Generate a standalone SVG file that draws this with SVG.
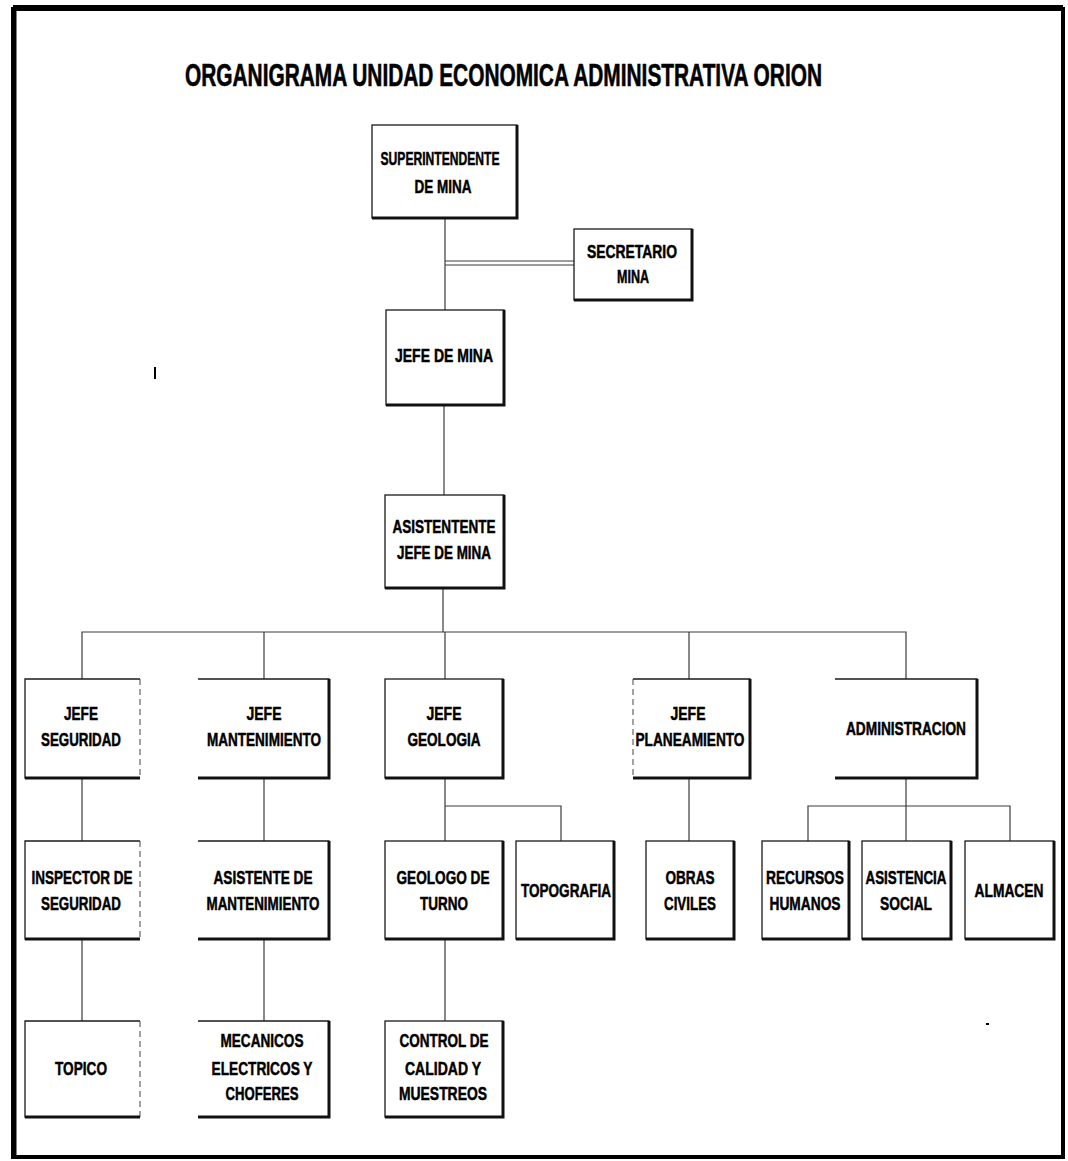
<svg xmlns="http://www.w3.org/2000/svg" width="1068" height="1161" viewBox="0 0 1068 1161">
<style>
.frame{fill:none;stroke:#000;stroke-width:4}
.box{fill:#fff;stroke:#1a1a1a;stroke-width:1.3}
.sh{fill:none;stroke:#111;stroke-width:3}
.faint{fill:none;stroke:#444;stroke-width:1;stroke-dasharray:6 4}
.c{fill:none;stroke:#3a3a3a;stroke-width:1.2}
.t{font-family:"Liberation Sans",Arial,sans-serif;font-weight:bold;font-size:19px;fill:#000;stroke:#000;stroke-width:0.5;text-anchor:middle}
.title{font-family:"Liberation Sans",Arial,sans-serif;font-weight:bold;font-size:32px;fill:#000;stroke:#000;stroke-width:0.6}
</style>
<rect width="1068" height="1161" fill="#fff"/>
<rect class="frame" x="13" y="9" width="1050" height="1148"/>
<line x1="13" y1="8" x2="1063" y2="8" stroke="#000" stroke-width="6"/>
<line x1="14" y1="9" x2="14" y2="1157" stroke="#000" stroke-width="5"/>
<text class="title" x="185" y="86" textLength="637" lengthAdjust="spacingAndGlyphs">ORGANIGRAMA UNIDAD ECONOMICA ADMINISTRATIVA ORION</text>

<g id="connectors">
<path class="c" d="M445,218 V310"/>
<path class="c" d="M445,261 H574 M445,265 H574"/>
<path class="c" d="M444,405 V495"/>
<path class="c" d="M443,588 V632"/>
<path class="c" d="M82,679 V632 H906 V679"/>
<path class="c" d="M264,632 V679"/>
<path class="c" d="M445,632 V679"/>
<path class="c" d="M689,632 V679"/>
<path class="c" d="M82,778 V841 M82,939 V1021"/>
<path class="c" d="M264,778 V841 M264,939 V1021"/>
<path class="c" d="M445,778 V841 M445,939 V1021"/>
<path class="c" d="M445,806 H561 V841"/>
<path class="c" d="M689,778 V841"/>
<path class="c" d="M906,778 V841"/>
<path class="c" d="M808,841 V806 H1010 V841"/>
</g>

<g id="n-super"><rect class="box" x="372" y="125" width="145" height="93"/><path class="sh" d="M517,125 V218 H372"/>
<text class="t" x="440" y="165" textLength="119" lengthAdjust="spacingAndGlyphs">SUPERINTENDENTE</text>
<text class="t" x="443" y="193" textLength="57" lengthAdjust="spacingAndGlyphs">DE MINA</text></g>

<g id="n-secretario"><rect class="box" x="574" y="229" width="118" height="71"/><path class="sh" d="M692,229 V300 H574"/>
<text class="t" x="632" y="258" textLength="90" lengthAdjust="spacingAndGlyphs">SECRETARIO</text>
<text class="t" x="633" y="283" textLength="32" lengthAdjust="spacingAndGlyphs">MINA</text></g>

<g id="n-jefemina"><rect class="box" x="386" y="310" width="118" height="95"/><path class="sh" d="M504,310 V405 H386"/>
<text class="t" x="444" y="362" textLength="98" lengthAdjust="spacingAndGlyphs">JEFE DE MINA</text></g>

<g id="n-asistente"><rect class="box" x="385" y="495" width="119" height="93"/><path class="sh" d="M504,495 V588 H385"/>
<text class="t" x="444" y="533" textLength="103" lengthAdjust="spacingAndGlyphs">ASISTENTENTE</text>
<text class="t" x="444" y="559" textLength="94" lengthAdjust="spacingAndGlyphs">JEFE DE MINA</text></g>

<g id="n-jefeseg"><path class="box" d="M140,778 H25 V679 H140"/><path class="faint" d="M140,679 V778"/><path class="sh" d="M140,778 H25"/>
<text class="t" x="81" y="720" textLength="34" lengthAdjust="spacingAndGlyphs">JEFE</text>
<text class="t" x="81" y="746" textLength="80" lengthAdjust="spacingAndGlyphs">SEGURIDAD</text></g>

<g id="n-jefemant"><path class="box" d="M198,679 H329 V778 H198"/><path class="sh" d="M329,679 V778 H198"/>
<text class="t" x="264" y="720" textLength="35" lengthAdjust="spacingAndGlyphs">JEFE</text>
<text class="t" x="264" y="746" textLength="114" lengthAdjust="spacingAndGlyphs">MANTENIMIENTO</text></g>

<g id="n-jefegeo"><rect class="box" x="385" y="679" width="118" height="99"/><path class="sh" d="M503,679 V778 H385"/>
<text class="t" x="444" y="720" textLength="35" lengthAdjust="spacingAndGlyphs">JEFE</text>
<text class="t" x="444" y="746" textLength="73" lengthAdjust="spacingAndGlyphs">GEOLOGIA</text></g>

<g id="n-jefeplan"><path class="box" d="M633,679 H750 V778 H633"/><path class="faint" d="M633,679 V778"/><path class="sh" d="M750,679 V778 H633"/>
<text class="t" x="688" y="720" textLength="35" lengthAdjust="spacingAndGlyphs">JEFE</text>
<text class="t" x="690" y="746" textLength="109" lengthAdjust="spacingAndGlyphs">PLANEAMIENTO</text></g>

<g id="n-admin"><path class="box" d="M835,679 H977 V778 H835"/><path class="sh" d="M977,679 V778 H835"/>
<text class="t" x="906" y="735" textLength="120" lengthAdjust="spacingAndGlyphs">ADMINISTRACION</text></g>

<g id="n-inspector"><path class="box" d="M140,939 H25 V841 H140"/><path class="faint" d="M140,841 V939"/><path class="sh" d="M140,939 H25"/>
<text class="t" x="82" y="884" textLength="101" lengthAdjust="spacingAndGlyphs">INSPECTOR DE</text>
<text class="t" x="81" y="910" textLength="80" lengthAdjust="spacingAndGlyphs">SEGURIDAD</text></g>

<g id="n-asistmant"><path class="box" d="M198,841 H329 V939 H198"/><path class="sh" d="M329,841 V939 H198"/>
<text class="t" x="263" y="884" textLength="99" lengthAdjust="spacingAndGlyphs">ASISTENTE DE</text>
<text class="t" x="263" y="910" textLength="113" lengthAdjust="spacingAndGlyphs">MANTENIMIENTO</text></g>

<g id="n-geologo"><rect class="box" x="385" y="841" width="118" height="98"/><path class="sh" d="M503,841 V939 H385"/>
<text class="t" x="443" y="884" textLength="93" lengthAdjust="spacingAndGlyphs">GEOLOGO DE</text>
<text class="t" x="444" y="910" textLength="48" lengthAdjust="spacingAndGlyphs">TURNO</text></g>

<g id="n-topografia"><rect class="box" x="516" y="841" width="98" height="98"/><path class="sh" d="M614,841 V939 H516"/>
<text class="t" x="566" y="897" textLength="90" lengthAdjust="spacingAndGlyphs">TOPOGRAFIA</text></g>

<g id="n-obras"><rect class="box" x="646" y="841" width="88" height="98"/><path class="sh" d="M734,841 V939 H646"/>
<text class="t" x="690" y="884" textLength="49" lengthAdjust="spacingAndGlyphs">OBRAS</text>
<text class="t" x="690" y="910" textLength="52" lengthAdjust="spacingAndGlyphs">CIVILES</text></g>

<g id="n-recursos"><rect class="box" x="762" y="841" width="87" height="98"/><path class="sh" d="M849,841 V939 H762"/>
<text class="t" x="805" y="884" textLength="78" lengthAdjust="spacingAndGlyphs">RECURSOS</text>
<text class="t" x="805" y="910" textLength="71" lengthAdjust="spacingAndGlyphs">HUMANOS</text></g>

<g id="n-asistencia"><rect class="box" x="862" y="841" width="89" height="98"/><path class="sh" d="M951,841 V939 H862"/>
<text class="t" x="906" y="884" textLength="81" lengthAdjust="spacingAndGlyphs">ASISTENCIA</text>
<text class="t" x="906" y="910" textLength="52" lengthAdjust="spacingAndGlyphs">SOCIAL</text></g>

<g id="n-almacen"><rect class="box" x="965" y="841" width="89" height="98"/><path class="sh" d="M1054,841 V939 H965"/>
<text class="t" x="1009" y="897" textLength="69" lengthAdjust="spacingAndGlyphs">ALMACEN</text></g>

<g id="n-topico"><path class="box" d="M140,1117 H25 V1021 H140"/><path class="faint" d="M140,1021 V1117"/><path class="sh" d="M140,1117 H25"/>
<text class="t" x="81" y="1075" textLength="52" lengthAdjust="spacingAndGlyphs">TOPICO</text></g>

<g id="n-mecanicos"><path class="box" d="M198,1021 H329 V1117 H198"/><path class="sh" d="M329,1021 V1117 H198"/>
<text class="t" x="262" y="1047" textLength="83" lengthAdjust="spacingAndGlyphs">MECANICOS</text>
<text class="t" x="262" y="1075" textLength="101" lengthAdjust="spacingAndGlyphs">ELECTRICOS Y</text>
<text class="t" x="262" y="1100" textLength="73" lengthAdjust="spacingAndGlyphs">CHOFERES</text></g>

<g id="n-control"><rect class="box" x="385" y="1021" width="118" height="96"/><path class="sh" d="M503,1021 V1117 H385"/>
<text class="t" x="444" y="1047" textLength="89" lengthAdjust="spacingAndGlyphs">CONTROL DE</text>
<text class="t" x="443" y="1075" textLength="76" lengthAdjust="spacingAndGlyphs">CALIDAD Y</text>
<text class="t" x="443" y="1100" textLength="88" lengthAdjust="spacingAndGlyphs">MUESTREOS</text></g>

<line x1="155" y1="367" x2="155" y2="379" stroke="#000" stroke-width="2"/>
<rect x="986" y="1023" width="3" height="2" fill="#000"/>
</svg>
